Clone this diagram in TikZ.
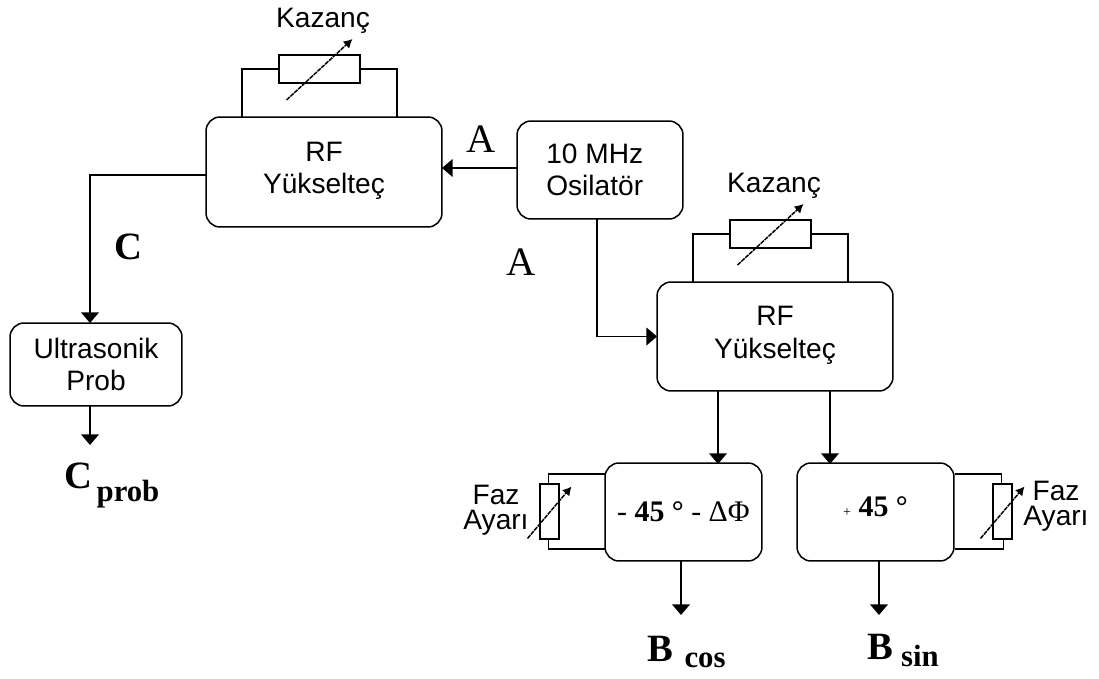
\documentclass[tikz,border=0pt]{standalone}
\usepackage{fontspec}
\setmainfont{Liberation Serif}
\setsansfont{Liberation Sans}
\usetikzlibrary{arrows.meta}
\begin{document}
\begin{tikzpicture}[x=.02cm,y=-.02cm,inner sep=0pt,outer sep=0pt,line width=.85pt,
>={Triangle[length=6pt,width=10pt]},
sysblock/.style={draw,rectangle,rounded corners=8pt,align=center,font=\sffamily\fontsize{16}{18.5}\selectfont},
trimmer/.style={draw,rectangle,fill=white},
tune/.style={-{Latex[length=5pt,width=5.5pt]},dash pattern=on 2.5pt off .5pt},
sans/.style={align=center,font=\sffamily\fontsize{16}{14.5}\selectfont},
letter/.style={font=\fontsize{23}{25}\selectfont},
letterb/.style={font=\bfseries\fontsize{22}{25}\selectfont},
subs/.style={font=\bfseries\fontsize{17.5}{19}\selectfont},
degbox/.style={font=\fontsize{17}{19}\selectfont}]
\useasboundingbox (0,0) rectangle (1099,679);

% blocks
\draw (324,172) node[sysblock,minimum width=4.72cm,minimum height=2.2cm] (rfa) {RF\\Yükselteç\rule[-5pt]{0pt}{1pt}};
\draw (600,170) node[sysblock,minimum width=3.32cm,minimum height=1.96cm] (osc) {\hspace{-6pt}10 MHz\\\hspace{-6pt}Osilatör};
\draw (775,336.5) node[sysblock,minimum width=4.72cm,minimum height=2.18cm] (rfb) {RF\\Yükselteç\rule[-5pt]{0pt}{1pt}};
\draw (96,364.5) node[sysblock,minimum width=3.44cm,minimum height=1.66cm] (prob) {Ultrasonik\\Prob};
\draw (683.5,512) node[sysblock,degbox,minimum width=3.14cm,minimum height=1.96cm] (phl) {- \textbf{45 °} - ΔΦ};
\draw (875.5,512) node[sysblock,degbox,minimum width=3.14cm,minimum height=1.96cm] (phr) {{\footnotesize +} \textbf{45 °}\rule[-6pt]{0pt}{1pt}};

% adjustable elements
\draw (319.5,69) node[trimmer,minimum width=1.62cm,minimum height=.56cm] (kza) {};
\draw (770.5,234) node[trimmer,minimum width=1.62cm,minimum height=.56cm] (kzb) {};
\draw (549.5,511.5) node[trimmer,minimum width=.38cm,minimum height=1.1cm] (fzl) {};
\draw (1002.5,511.5) node[trimmer,minimum width=.38cm,minimum height=1.1cm] (fzr) {};

% labels
\draw (323,21) node[sans] (kzalbl) {Kazanç};
\draw (774,186) node[sans] (kzblbl) {Kazanç};
\draw (496,510) node[sans] (fzllbl) {Faz\\Ayarı};
\draw (1056,506) node[sans] (fzrlbl) {Faz\\Ayarı};
\draw (481,139) node[letter] (aup) {A};
\draw (521,262) node[letter] (alow) {A};
\draw (128,247) node[letterb] (clbl) {C};

% outputs
\coordinate (probout) at (90,445);
\coordinate (cosout) at (681,615);
\coordinate (sinout) at (879,615);
\draw (78,476) node[letterb] (cp) {C};
\draw (128,494) node[subs] (cpsub) {prob};
\draw (660,649) node[letterb] (bc) {B};
\draw (705,660) node[subs] (bcsub) {cos};
\draw (880,647) node[letterb] (bs) {B};
\draw (920,656) node[subs] (bssub) {sin};

% connections
\draw[->] ([yshift=.04cm]osc.west) -- ([yshift=.04cm]rfa.east |- osc.west);
\draw[->] ([yshift=-.06cm]rfa.west) -| (prob.north -| probout);
\draw[->] ([xshift=-.06cm]osc.south) |- (rfb.west);
\draw[->] ([xshift=-1.14cm]rfb.south) -- ++(0,73);
\draw[->] ([xshift=1.1cm]rfb.south) -- ++(0,73);
\draw[->] (prob.south -| probout) -- (probout);
\draw[->] (phl.south -| cosout) -- (cosout);
\draw[->] (phr.south -| sinout) -- (sinout);

% feedback wires
\draw (kza.west) -- ++(-37,0) -- ++(0,48);
\draw (kza.east) -- ++(37,0) -- ++(0,48);
\draw (kzb.west) -- ++(-37,0) -- ++(0,48);
\draw (kzb.east) -- ++(37,0) -- ++(0,48);
\draw (fzl.north) ++(-1,0) -- ++(0,-10) -- ++(57,0);
\draw (fzl.south) ++(-1,0) -- ++(0,10) -- ++(57,0);
\draw (fzr.north) ++(-1,0) -- ++(0,-10) -- ++(-47,0);
\draw (fzr.south) ++(1,0) -- ++(0,10) -- ++(-49,0);

% tuning arrows
\draw[tune] ([shift={(-33,31)}]kza.center) -- ++(66,-61);
\draw[tune] ([shift={(-33,31)}]kzb.center) -- ++(66,-61);
\draw[tune] ([shift={(-22,27)}]fzl.center) -- ++(44,-52);
\draw[tune] ([shift={(-22,27)}]fzr.center) -- ++(44,-52);
\end{tikzpicture}
\end{document}
